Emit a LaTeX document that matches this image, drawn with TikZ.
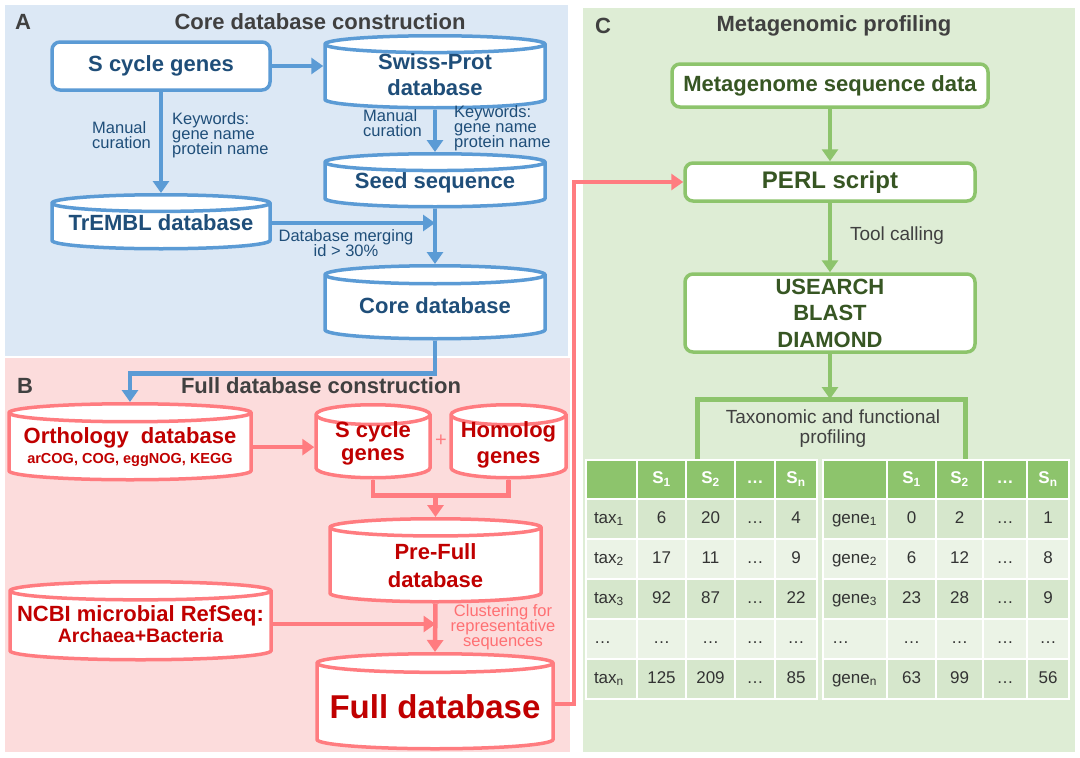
\documentclass[tikz,border=0pt]{standalone}
\usepackage{fontspec}
\setmainfont{Liberation Sans}
\usetikzlibrary{shapes.geometric}
\usetikzlibrary{calc}
\usetikzlibrary{arrows.meta}

\definecolor{bluebg}{HTML}{DCE8F5}
\definecolor{blueln}{HTML}{5B9BD5}
\definecolor{bluetx}{HTML}{1F4E79}
\definecolor{pinkbg}{HTML}{FCDCDC}
\definecolor{redln}{HTML}{FF7C80}
\definecolor{redtx}{HTML}{C00000}
\definecolor{greenbg}{HTML}{DEEDD5}
\definecolor{greenln}{HTML}{8DC46C}
\definecolor{greentx}{HTML}{375623}
\definecolor{titlegray}{HTML}{404040}
\definecolor{rowdk}{HTML}{D6E7CC}
\definecolor{rowlt}{HTML}{EBF3E6}
\newcommand{\tightlines}{\lineskiplimit-20pt\relax}

\begin{document}
\begin{tikzpicture}[x=1pt,y=-1pt,
    db/.style={cylinder, shape border rotate=90, anchor=north, line width=3.5pt, fill=white, inner sep=0pt, text height=20pt, text depth=0pt},
    dbA/.style={db, draw=blueln},
    dbB/.style={db, draw=redln},
    dbt/.style={inner sep=0pt, align=center, font=\bfseries\fontsize{22}{26}\selectfont},
    box/.style={rectangle, rounded corners=8pt, line width=3.5pt, fill=white, inner sep=0pt, align=center, font=\bfseries\fontsize{22}{26}\selectfont},
    arr/.style={line width=4.5pt, -{Triangle[length=12pt,width=16pt]}},
    lbl/.style={inner sep=0pt, align=left, font=\fontsize{16.5}{15}\selectfont\tightlines},
    ttl/.style={inner sep=0pt, text=titlegray, font=\bfseries\fontsize{22}{26}\selectfont},
    tcell/.style={draw=white, line width=2.5pt, minimum height=40, inner sep=0pt, text height=12pt, text depth=3.5pt, text=black!80, font=\fontsize{17}{19}\selectfont},
    hcell/.style={tcell, minimum height=39, fill=greenln, text=white, font=\bfseries\fontsize{17}{19}\selectfont}]
    \useasboundingbox (0,0) rectangle (1080,758);
    % panel backgrounds
    \fill [bluebg] (5,5) rectangle (568,356);
    \fill [pinkbg] (5,358) rectangle (570,752);
    \fill [greenbg] (583,8) rectangle (1075,752);

    % A: core database construction
    \node [ttl] (labA) at (23,22) {A};
    \node [ttl] (ttlA) at (320,22) {Core database construction};
    \node [box, draw=blueln, text=bluetx, minimum width=218, minimum height=48] (sgenes) at (161,66) {S cycle genes};
    \node [dbA, minimum width=220, minimum height=72, text width=200, aspect=0.084] (swiss) at (435,34) {};
    \node [dbA, minimum width=218, minimum height=54, text width=198, aspect=0.084] (trembl) at (161,193) {};
    \node [dbA, minimum width=220, minimum height=53, text width=200, aspect=0.084] (seed) at (435,152) {};
    \node [dbA, minimum width=220, minimum height=73, text width=200, aspect=0.09] (core) at (435,264) {};
    \node [dbt, text=bluetx] (swisst) at (435,75) {Swiss-Prot\\database};
    \node [dbt, text=bluetx] (trembltx) at (161,223) {TrEMBL database};
    \node [dbt, text=bluetx] (seedt) at (435,183) {Seed sequence};
    \node [dbt, text=bluetx] (coret) at (435,305.5) {Core database};
    \draw [arr, blueln] (sgenes.east) -- (sgenes.east -| swiss.west);
    \draw [arr, blueln] (sgenes.south) -- (trembl.north);
    \draw [arr, blueln] (swiss.south) -- (seed.north);
    \draw [arr, blueln] (seed.south) -- (core.north);
    \draw [arr, blueln] (trembl.east |- trembltx) -- (seed.south |- trembltx);
    \node [lbl, text=bluetx, anchor=west] (mcur1) at (92,135.5) {Manual\\curation};
    \node [lbl, text=bluetx, anchor=west] (keyw1) at (172,135) {Keywords:\\gene name\\protein name};
    \node [lbl, text=bluetx, anchor=west] (mcur2) at (363,123) {Manual\\curation};
    \node [lbl, text=bluetx, anchor=west] (keyw2) at (454,128) {Keywords:\\gene name\\protein name};
    \node [lbl, text=bluetx, align=center] (merge) at (346,243) {Database merging\\id > 30\%};

    % B: full database construction
    \node [ttl] (labB) at (25,386) {B};
    \node [ttl] (ttlB) at (321,386) {Full database construction};
    \node [dbB, minimum width=242, minimum height=76, text width=222, aspect=0.081] (ortho) at (130,402) {};
    \node [dbB, minimum width=114, minimum height=73, text width=94, aspect=0.21] (scyc) at (373,403) {};
    \node [dbB, minimum width=115, minimum height=73, text width=95, aspect=0.21] (homo) at (508.5,403) {};
    \node [dbB, minimum width=211, minimum height=83, text width=191, aspect=0.09] (prefull) at (435.5,517) {};
    \node [dbB, minimum width=261, minimum height=78, text width=241, aspect=0.075] (ncbi) at (140.5,580) {};
    \node [dbB, minimum width=236, minimum height=95, text width=216, aspect=0.086] (full) at (435,652) {};
    \node [dbt, text=redtx] (orthot) at (130,447.5) {Orthology\ \ database\\[-6pt]{\fontsize{14.5}{17}\selectfont arCOG, COG, eggNOG, KEGG}};
    \node [dbt, text=redtx] (scyct) at (373,443.5) {S cycle\\[-3pt]genes};
    \node [dbt, text=redtx] (homot) at (508.5,445) {Homolog\\genes};
    \node [inner sep=0pt, text=redln, font=\fontsize{20}{22}\selectfont] (plus) at (441,441) {+};
    \node [dbt, text=redtx] (prefullt) at (435.5,566) {Pre-Full\\[2pt]database};
    \node [dbt, text=redtx] (ncbit) at (140.5,624) {NCBI microbial RefSeq:\\[-5pt]{\fontsize{19.5}{22}\selectfont Archaea+Bacteria}};
    \node [dbt, text=redtx, font=\bfseries\fontsize{33}{36}\selectfont] (fullt) at (435,707) {Full database};
    \coordinate (mrg) at ($(prefull.north |- scyc.south)+(0,16)$);
    \draw [arr, blueln] (core.south) -- ++(0,33) -| (ortho.north);
    \draw [arr, redln] (ortho.east) -- (ortho.east -| scyc.west);
    \draw [line width=4.5pt, redln] (scyc.south) |- (mrg) -| (homo.south);
    \draw [arr, redln] (mrg) -- (prefull.north);
    \draw [arr, redln] (ncbi.east |- ncbit) -- (prefull.south |- ncbit);
    \draw [arr, redln] (prefull.south) -- (full.north);
    \node [lbl, align=center, text=redln!90!red] (clust) at (503,627) {Clustering for\\representative\\sequences};

    % C: metagenomic profiling
    \node [ttl] (labC) at (603,26) {C};
    \node [ttl] (ttlC) at (834,26) {Metagenomic profiling};
    \node [box, draw=greenln, text=greentx, minimum width=316, minimum height=43] (meta) at (830,85.5) {Metagenome sequence data};
    \node [box, draw=greenln, text=greentx, minimum width=290, minimum height=38, font=\bfseries\fontsize{24}{26}\selectfont] (perl) at (830,182) {PERL script};
    \node [box, draw=greenln, text=greentx, minimum width=290, minimum height=78] (tools) at (830,313) {USEARCH\\[0.5pt]BLAST\\[0.5pt]DIAMOND};
    \draw [arr, greenln] (meta.south) -- (perl.north);
    \draw [arr, greenln] (perl.south) -- (tools.north);
    \draw [arr, redln, line width=4pt] ($(full.east)+(0,-3)$) -- ++(19,0) |- (perl.west);
    \node [inner sep=0pt, text=titlegray, font=\fontsize{19}{21}\selectfont] (toolc) at (897,236) {Tool calling};
    \coordinate (brl) at (697,462);
    \coordinate (brr) at (965,462);
    \coordinate (brtop) at (830,399);
    \draw [line width=5pt, greenln] (brl) |- (brtop) -| (brr);
    \draw [arr, greenln] (tools.south) -- (brtop);
    \node [inner sep=0pt, align=center, text=titlegray, font=\fontsize{19}{20}\selectfont] (profl) at (833,429) {Taxonomic and functional\\profiling};

    % tables
    \foreach \x/\w/\t [count=\c] in {611.5/51/{}, 661.5/49/S\textsubscript{1}, 710.5/49/S\textsubscript{2}, 755/40/…, 796/42/S\textsubscript{n},
        855/64/{}, 911.5/49/S\textsubscript{1}, 959.5/47/S\textsubscript{2}, 1005/44/…, 1048/42/S\textsubscript{n}}
        \node [hcell, minimum width=\w] (h\c) at (\x,479.5) {\t};
    \foreach \y/\la/\a/\b/\n/\lb/\c/\d/\m/\fc [count=\r] in {
        519/tax\textsubscript{1}/6/20/4/gene\textsubscript{1}/0/2/1/rowdk,
        559/tax\textsubscript{2}/17/11/9/gene\textsubscript{2}/6/12/8/rowlt,
        599/tax\textsubscript{3}/92/87/22/gene\textsubscript{3}/23/28/9/rowdk,
        639/…/…/…/…/…/…/…/…/rowlt,
        679/tax\textsubscript{n}/125/209/85/gene\textsubscript{n}/63/99/56/rowdk}{
        \node [tcell, fill=\fc, text width=35, inner xsep=8, align=left] (l\r-1) at (611.5,\y) {\la};
        \node [tcell, fill=\fc, minimum width=49] (l\r-2) at (661.5,\y) {\a};
        \node [tcell, fill=\fc, minimum width=49] (l\r-3) at (710.5,\y) {\b};
        \node [tcell, fill=\fc, minimum width=40] (l\r-4) at (755,\y) {…};
        \node [tcell, fill=\fc, minimum width=42] (l\r-5) at (796,\y) {\n};
        \node [tcell, fill=\fc, text width=46, inner xsep=9, align=left] (g\r-1) at (855,\y) {\lb};
        \node [tcell, fill=\fc, minimum width=49] (g\r-2) at (911.5,\y) {\c};
        \node [tcell, fill=\fc, minimum width=47] (g\r-3) at (959.5,\y) {\d};
        \node [tcell, fill=\fc, minimum width=44] (g\r-4) at (1005,\y) {…};
        \node [tcell, fill=\fc, minimum width=42] (g\r-5) at (1048,\y) {\m};
    }
\end{tikzpicture}
\end{document}
